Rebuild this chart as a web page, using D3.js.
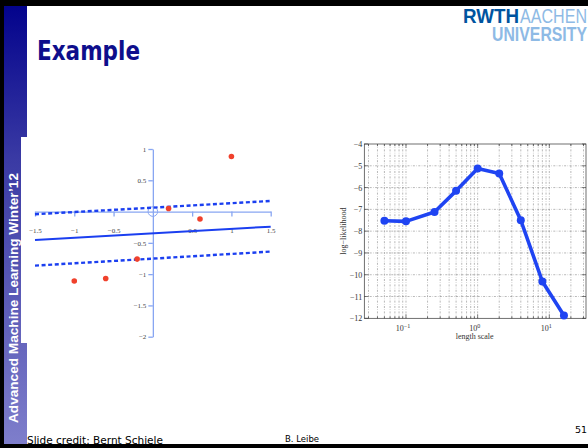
<!doctype html>
<html>
<head>
<meta charset="utf-8">
<title>Example</title>
<style>
  body { margin: 0; background: #fff; }
  svg { display: block; }
  .serif { font-family: "Liberation Serif", "DejaVu Serif", serif; }
</style>
<script src="https://cdn.jsdelivr.net/npm/d3@7"></script>
</head>
<body>
<svg width="588" height="448"></svg>
<script>

// left chart: GP regression example
var pointX = [-1, -0.6, -0.2, 0.2, 0.6, 1];
var pointY = [-1.11, -1.07, -0.76, 0.05, -0.12, 0.88];
var fitX = [-1.5, 1.5];
var fitMean = [-0.454, -0.241];
var fitUpper = [-0.043, 0.169];
var fitLower = [-0.864, -0.64];
var leftXTicks = [-1.5, -1, -0.5, 0.5, 1, 1.5];
var leftYTicks = [1, 0.5, -0.5, -1, -1.5, -2];

// right chart: log-likelihood vs length scale
var lengthScale = [0.05, 0.1, 0.25, 0.5, 1, 2, 4, 8, 16];
var logLik = [-7.52, -7.55, -7.12, -6.15, -5.12, -5.35, -7.5, -10.31, -11.87];
var rightYTicks = [-4, -5, -6, -7, -8, -9, -10, -11, -12];
var rightXTicks = [0.1, 1, 10];
var rightXExp = ['\u22121', '0', '1'];

var svg = d3.select('svg');
var minus = function(v) { return String(v).replace('-', '\u2212'); };

// ---- slide frame ----
var grad = svg.append('defs').append('linearGradient')
  .attr('id', 'side').attr('x1', 0).attr('y1', 0).attr('x2', 0).attr('y2', 1);
grad.append('stop').attr('offset', 0).attr('stop-color', '#03038c');
grad.append('stop').attr('offset', 0.35).attr('stop-color', '#3a3aa4');
grad.append('stop').attr('offset', 1).attr('stop-color', '#7e7ecb');

svg.append('rect').attr('x', 4).attr('y', 6).attr('width', 23).attr('height', 438).attr('fill', 'url(#side)');
svg.append('rect').attr('x', 0).attr('y', 0).attr('width', 588).attr('height', 6).attr('fill', '#000');
svg.append('rect').attr('x', 0).attr('y', 0).attr('width', 4).attr('height', 448).attr('fill', '#000');
svg.append('rect').attr('x', 0).attr('y', 444).attr('width', 588).attr('height', 4).attr('fill', '#000');

// pasted figure background covers part of the sidebar
svg.append('rect').attr('x', 21).attr('y', 137).attr('width', 290).attr('height', 206).attr('fill', '#fff');

svg.append('text')
  .attr('transform', 'translate(17.5,423) rotate(-90)')
  .attr('font-family', 'Liberation Sans, Arial, sans-serif')
  .attr('font-weight', 'bold').attr('font-size', 13)
  .attr('textLength', 250).attr('lengthAdjust', 'spacingAndGlyphs')
  .attr('fill', '#fff')
  .text("Advanced Machine Learning Winter\u201912");

svg.append('text')
  .attr('x', 37).attr('y', 60)
  .attr('font-family', 'DejaVu Sans, sans-serif')
  .attr('font-weight', 'bold').attr('font-size', 26)
  .attr('textLength', 103).attr('lengthAdjust', 'spacingAndGlyphs')
  .attr('fill', '#0e0e8c')
  .text('Example');

// logo
var logoFont = 'Liberation Sans, Arial, sans-serif';
svg.append('text').attr('x', 463).attr('y', 23)
  .attr('font-family', logoFont).attr('font-weight', 'bold').attr('font-size', 20)
  .attr('textLength', 56).attr('lengthAdjust', 'spacingAndGlyphs')
  .attr('fill', '#00549f').text('RWTH');
svg.append('text').attr('x', 520).attr('y', 23)
  .attr('font-family', logoFont).attr('font-size', 20)
  .attr('textLength', 67).attr('lengthAdjust', 'spacingAndGlyphs')
  .attr('fill', '#8ebae5').text('AACHEN');
svg.append('text').attr('x', 492).attr('y', 41)
  .attr('font-family', logoFont).attr('font-weight', 'bold').attr('font-size', 20)
  .attr('textLength', 95).attr('lengthAdjust', 'spacingAndGlyphs')
  .attr('fill', '#8ebae5').text('UNIVERSITY');

// footer
svg.append('text').attr('x', 27).attr('y', 443.5)
  .attr('font-family', 'DejaVu Sans, sans-serif').attr('font-size', 10.5)
  .attr('textLength', 136).attr('lengthAdjust', 'spacingAndGlyphs')
  .attr('fill', '#000').text('Slide credit: Bernt Schiele');
svg.append('text').attr('x', 285).attr('y', 442)
  .attr('font-family', 'DejaVu Sans, sans-serif').attr('font-size', 8.5)
  .attr('fill', '#000').text('B. Leibe');
svg.append('text').attr('x', 587).attr('y', 432.7).attr('text-anchor', 'end')
  .attr('font-family', 'DejaVu Sans, sans-serif').attr('font-size', 9.5)
  .attr('fill', '#000').text('51');

// ---- left chart ----
var lx = d3.scaleLinear().domain([-1.5, 1.5]).range([35, 270.7]);
var ly = d3.scaleLinear().domain([-2, 1]).range([336.7, 149]);
var axisBlue = '#88a6f2';

var gxl = svg.append('g').attr('transform', 'translate(0,' + ly(0) + ')')
  .call(d3.axisBottom(lx).tickValues(leftXTicks).tickSize(5).tickSizeOuter(0)
    .tickPadding(11).tickFormat(minus));
var gyl = svg.append('g').attr('transform', 'translate(' + lx(0) + ',0)')
  .call(d3.axisLeft(ly).tickValues(leftYTicks).tickSize(4.5).tickSizeOuter(0)
    .tickPadding(2).tickFormat(minus));
[gxl, gyl].forEach(function(g) {
  g.selectAll('path, line').attr('stroke', axisBlue).attr('stroke-width', 1.3);
  g.selectAll('text').attr('class', 'serif').attr('font-size', 7).attr('fill', '#444');
});
svg.append('circle').attr('cx', lx(0)).attr('cy', ly(0)).attr('r', 4.8)
  .attr('fill', 'none').attr('stroke', axisBlue).attr('stroke-width', 1);

var fitLine = function(ys) {
  return d3.line().x(function(d, i) { return lx(fitX[i]); }).y(function(d) { return ly(d); })(ys);
};
svg.append('path').attr('d', fitLine(fitUpper)).attr('fill', 'none')
  .attr('stroke', '#1b3ff0').attr('stroke-width', 2.4).attr('stroke-dasharray', '4,2.6');
svg.append('path').attr('d', fitLine(fitLower)).attr('fill', 'none')
  .attr('stroke', '#1b3ff0').attr('stroke-width', 2.4).attr('stroke-dasharray', '4,2.6');
svg.append('path').attr('d', fitLine(fitMean)).attr('fill', 'none')
  .attr('stroke', '#1b3ff0').attr('stroke-width', 2);

svg.selectAll('circle.pt').data(pointX).enter().append('circle')
  .attr('class', 'pt')
  .attr('cx', function(d) { return lx(d); })
  .attr('cy', function(d, i) { return ly(pointY[i]); })
  .attr('r', 2.8).attr('fill', '#f0412c');

// ---- right chart ----
var rx = d3.scaleLog().domain([0.0262, 32.5]).range([364.3, 586]);
var ry = d3.scaleLinear().domain([-12, -4]).range([318.3, 144]);
var pLeft = rx.range()[0], pRight = rx.range()[1], pTop = ry.range()[1], pBottom = ry.range()[0];

var minor = [];
[0.01, 0.1, 1, 10].forEach(function(dec) {
  for (var m = 1; m <= 9; m++) {
    var v = +(dec * m).toPrecision(3);
    if (v > rx.domain()[0] && v < rx.domain()[1]) minor.push(v);
  }
});

var grid = svg.append('g').attr('stroke', '#8a8a8a').attr('stroke-width', 0.6)
  .attr('stroke-dasharray', '2,1.4,0.6,1.4');
grid.selectAll('line.v').data(minor).enter().append('line')
  .attr('x1', function(d) { return rx(d); }).attr('x2', function(d) { return rx(d); })
  .attr('y1', pTop).attr('y2', pBottom);
grid.selectAll('line.h').data(rightYTicks.slice(1, -1)).enter().append('line')
  .attr('x1', pLeft).attr('x2', pRight)
  .attr('y1', function(d) { return ry(d); }).attr('y2', function(d) { return ry(d); });

var ticks = svg.append('g').attr('stroke', '#333').attr('stroke-width', 0.6);
minor.forEach(function(v) {
  var len = rightXTicks.indexOf(v) >= 0 ? 4 : 2.2;
  ticks.append('line').attr('x1', rx(v)).attr('x2', rx(v)).attr('y1', pBottom).attr('y2', pBottom - len);
  ticks.append('line').attr('x1', rx(v)).attr('x2', rx(v)).attr('y1', pTop).attr('y2', pTop + len);
});
rightYTicks.forEach(function(v) {
  ticks.append('line').attr('x1', pLeft).attr('x2', pLeft + 4).attr('y1', ry(v)).attr('y2', ry(v));
  ticks.append('line').attr('x1', pRight).attr('x2', pRight - 4).attr('y1', ry(v)).attr('y2', ry(v));
});
svg.append('rect').attr('x', pLeft).attr('y', pTop).attr('width', pRight - pLeft).attr('height', pBottom - pTop)
  .attr('fill', 'none').attr('stroke', '#333').attr('stroke-width', 0.7);

var gyr = svg.append('g').attr('transform', 'translate(' + pLeft + ',0)')
  .call(d3.axisLeft(ry).tickValues(rightYTicks).tickSize(0).tickPadding(2).tickFormat(minus));
gyr.select('.domain').remove();
gyr.selectAll('text').attr('class', 'serif').attr('font-size', 8).attr('fill', '#333');

var xl = svg.append('g').attr('class', 'serif').attr('font-size', 8).attr('fill', '#333');
rightXTicks.forEach(function(v, i) {
  var t = xl.append('text').attr('x', rx(v) - 3).attr('y', 331).attr('text-anchor', 'middle');
  t.append('tspan').text('10');
  t.append('tspan').attr('dy', -3.5).attr('font-size', 6).text(rightXExp[i]);
});

svg.append('text').attr('class', 'serif').attr('font-size', 8).attr('fill', '#333')
  .attr('x', (pLeft + pRight) / 2 - 0.5).attr('y', 339).attr('text-anchor', 'middle')
  .text('length scale');
svg.append('text').attr('class', 'serif').attr('font-size', 8).attr('fill', '#333')
  .attr('transform', 'translate(345.5,' + ((pTop + pBottom) / 2) + ') rotate(-90)')
  .attr('text-anchor', 'middle')
  .text('log\u2212likelihood');

var curve = d3.line()
  .x(function(d) { return rx(d); })
  .y(function(d, i) { return ry(logLik[i]); });
svg.append('path').attr('d', curve(lengthScale)).attr('fill', 'none')
  .attr('stroke', '#1f44f2').attr('stroke-width', 3.6).attr('stroke-linejoin', 'round');
svg.selectAll('circle.mk').data(lengthScale).enter().append('circle')
  .attr('class', 'mk')
  .attr('cx', function(d) { return rx(d); })
  .attr('cy', function(d, i) { return ry(logLik[i]); })
  .attr('r', 4).attr('fill', '#1f44f2');

</script>
</body>
</html>
